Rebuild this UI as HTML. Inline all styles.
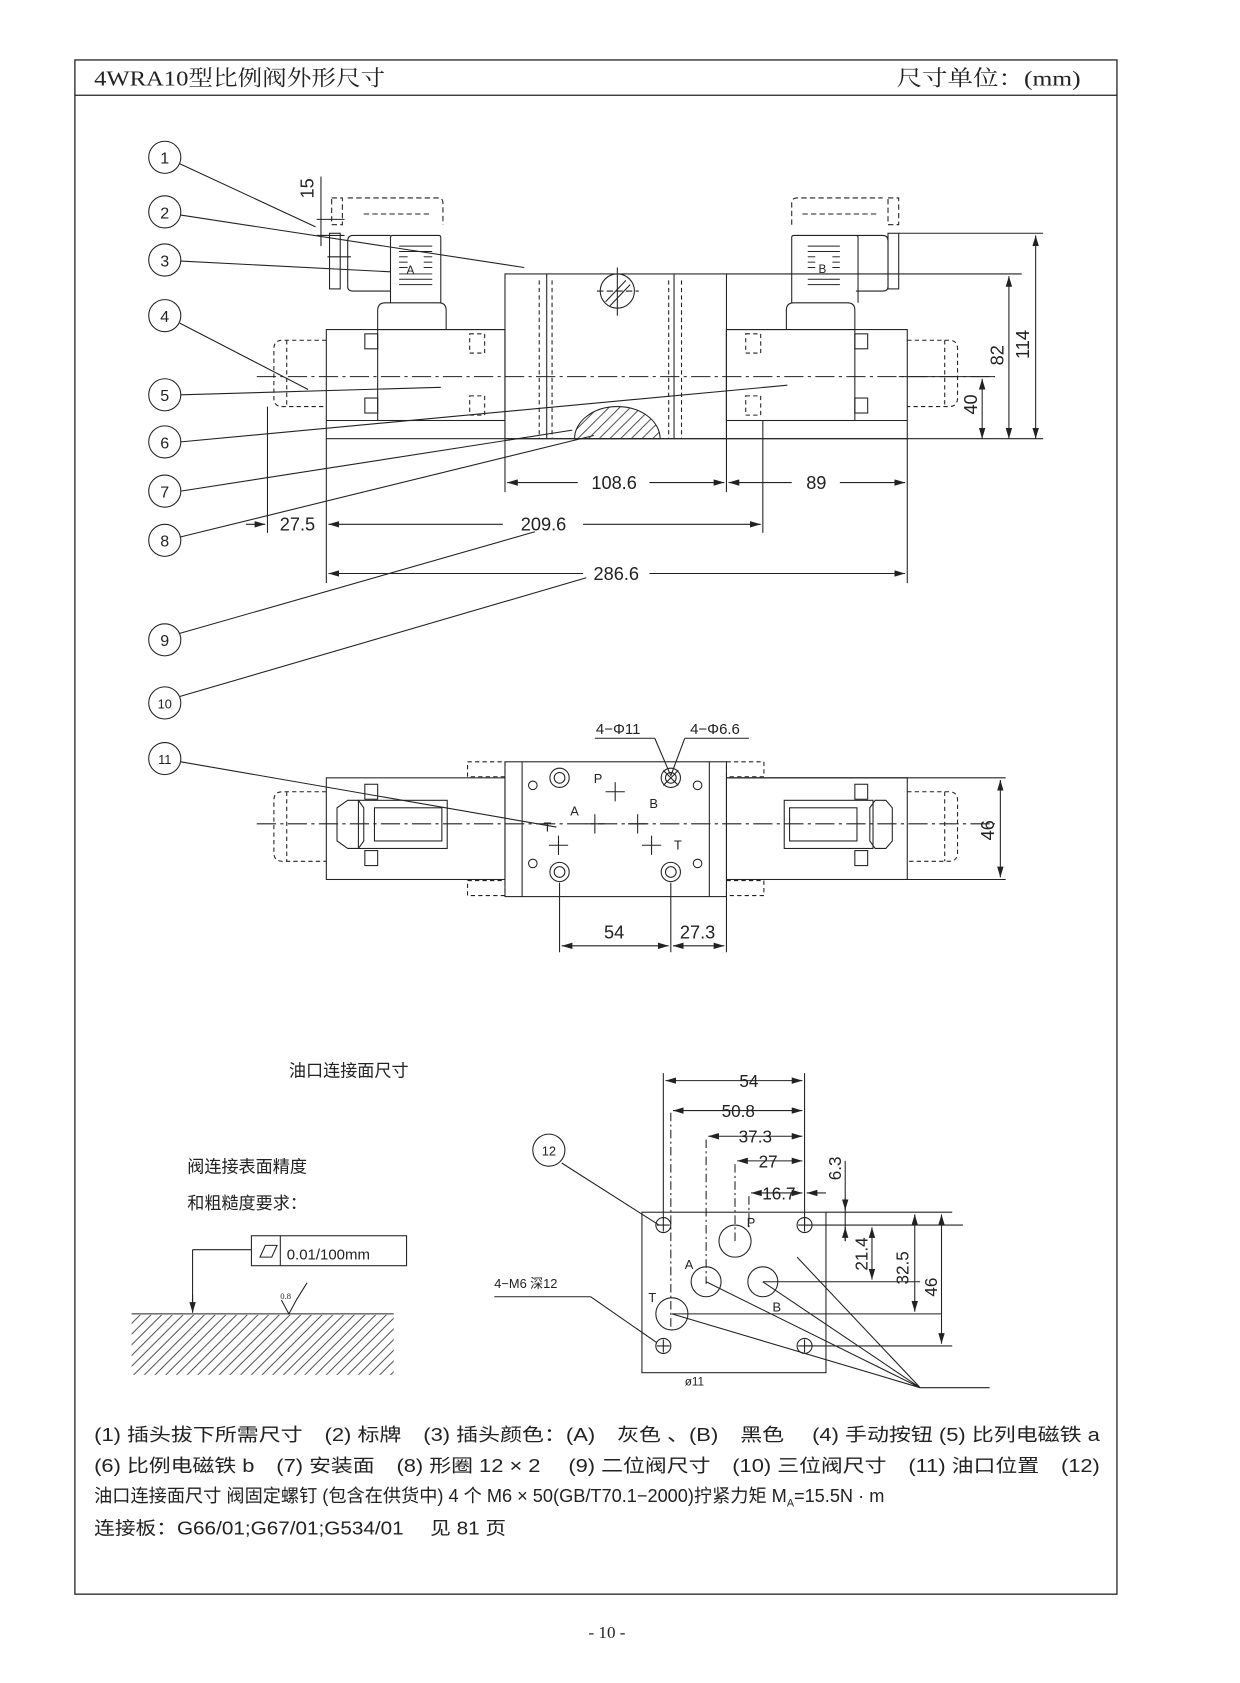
<!DOCTYPE html>
<html><head><meta charset="utf-8"><style>
html,body{margin:0;padding:0;background:#fff}
svg{display:block}
text{font-family:"Liberation Sans","Noto Sans CJK SC",sans-serif;fill:#222}
.s{font-family:"Liberation Serif","Noto Serif CJK SC",serif}
</style></head><body>
<svg width="1240" height="1683" viewBox="0 0 1159 1573" xmlns="http://www.w3.org/2000/svg">
<defs>
<marker id="a" viewBox="0 0 10 6" refX="10" refY="3" markerWidth="10" markerHeight="6" orient="auto-start-reverse" markerUnits="userSpaceOnUse"><path d="M0,0L10,3L0,6z" fill="#222"/></marker>
<pattern id="h" width="10" height="10" patternUnits="userSpaceOnUse"><path d="M0,10L10,0M-2,2L2,-2M8,12L12,8" stroke="#333" stroke-width="0.8"/></pattern>
</defs>
<g fill="none" stroke="#222" stroke-width="1">
<rect x="70" y="56" width="974" height="1434" stroke-width="1.2"/>
<line x1="70" y1="89" x2="1044" y2="89" stroke-width="1.2"/>

<g>
<circle cx="154" cy="147" r="15"/><circle cx="154" cy="198" r="15"/><circle cx="154" cy="243" r="15"/>
<circle cx="154" cy="295" r="15"/><circle cx="154" cy="369" r="15"/><circle cx="154" cy="413" r="15"/>
<circle cx="154" cy="459" r="15"/><circle cx="154" cy="505" r="15"/><circle cx="154" cy="598" r="15"/>
<circle cx="154" cy="657" r="15"/><circle cx="154" cy="709" r="15"/><circle cx="513" cy="1075" r="15"/>
</g>
<line x1="168" y1="153" x2="295" y2="212"/>
<line x1="169" y1="201" x2="490" y2="250"/>
<line x1="169" y1="244" x2="365" y2="254"/>
<line x1="168" y1="302" x2="288" y2="364"/>
<line x1="169" y1="369" x2="412" y2="362"/>
<line x1="169" y1="413" x2="736" y2="360"/>
<line x1="169" y1="459" x2="535" y2="402"/>
<line x1="168" y1="502" x2="555" y2="407"/>
<line x1="168" y1="592" x2="500" y2="497"/>
<line x1="168" y1="651" x2="548" y2="540"/>
<line x1="169" y1="712" x2="520" y2="773"/>
<line x1="525" y1="1087" x2="616" y2="1145"/>

<rect x="472" y="256" width="207" height="154"/>
<line x1="472" y1="410" x2="975" y2="410"/>
<line x1="305" y1="393" x2="472" y2="393"/>
<line x1="679" y1="393" x2="848" y2="393"/>
<rect x="305" y="308" width="167" height="102"/>
<rect x="353" y="308" width="119" height="85"/>
<rect x="341" y="312" width="12" height="14"/><rect x="341" y="372" width="12" height="14"/>
<rect x="679" y="308" width="169" height="102"/>
<rect x="679" y="308" width="120" height="85"/>
<rect x="799" y="312" width="12" height="14"/><rect x="799" y="372" width="12" height="14"/>
<g stroke-dasharray="4,3">
<path d="M305 318H264Q256 318 256 326V372Q256 380 264 380H305"/>
<line x1="268" y1="318" x2="268" y2="380"/>
<path d="M848 318H887Q895 318 895 326V372Q895 380 887 380H848"/>
<line x1="883" y1="318" x2="883" y2="380"/>
<rect x="439" y="312" width="14" height="18"/><rect x="439" y="370" width="14" height="18"/>
<rect x="697" y="312" width="14" height="18"/><rect x="697" y="370" width="14" height="18"/>
<line x1="504" y1="262" x2="504" y2="410"/><line x1="516" y1="262" x2="516" y2="410"/>
<line x1="625" y1="262" x2="625" y2="410"/><line x1="637" y1="262" x2="637" y2="410"/>
</g>
<line x1="511" y1="256" x2="511" y2="410"/><line x1="630" y1="256" x2="630" y2="410"/>
<line x1="240" y1="352" x2="930" y2="352" stroke-dasharray="18,4,3,4"/>
<circle cx="577" cy="272" r="16"/>
<line x1="566" y1="282" x2="585" y2="262"/><line x1="570" y1="286" x2="589" y2="266"/>
<line x1="558" y1="272" x2="597" y2="272" stroke-dasharray="6,3"/>
<line x1="577" y1="250" x2="577" y2="295"/>
<path d="M537 410A40 30 0 0 1 617 410Z" fill="url(#h)"/>
<path d="M353 308V290Q353 283 360 283H410Q417 283 417 290V308"/>
<path d="M365 283V222Q365 220 367 220H410Q412 220 412 222V283"/>
<path d="M365 220H330Q325 220 325 225V268Q325 272 330 272H365"/>
<rect x="308" y="218" width="10" height="52"/>
<line x1="306" y1="240" x2="328" y2="240"/>
<g stroke-dasharray="5,3"><path d="M325 185H410Q414 185 414 190V210"/><line x1="340" y1="200" x2="404" y2="200"/><rect x="310" y="185" width="10" height="25"/></g>
<g stroke-width="0.9">
<line x1="373" y1="230" x2="404" y2="230"/><line x1="373" y1="235" x2="404" y2="235"/>
<line x1="373" y1="240" x2="381" y2="240"/><line x1="396" y1="240" x2="404" y2="240"/>
<line x1="373" y1="245" x2="381" y2="245"/><line x1="396" y1="245" x2="404" y2="245"/>
<line x1="373" y1="250" x2="381" y2="250"/><line x1="396" y1="250" x2="404" y2="250"/>
<line x1="373" y1="256" x2="404" y2="256"/><line x1="373" y1="261" x2="404" y2="261"/><line x1="373" y1="266" x2="404" y2="266"/>
</g>
<path d="M735 308V290Q735 283 742 283H792Q799 283 799 290V308"/>
<path d="M740 283V222Q740 220 742 220H800Q802 220 802 222V283"/>
<path d="M800 220H825Q830 220 830 225V268Q830 272 825 272H800"/>
<rect x="830" y="218" width="10" height="52"/>
<g stroke-dasharray="5,3"><path d="M740 210V190Q740 185 745 185H825"/><line x1="750" y1="200" x2="820" y2="200"/><rect x="830" y="185" width="10" height="25"/></g>
<g stroke-width="0.9">
<line x1="755" y1="230" x2="785" y2="230"/><line x1="755" y1="235" x2="785" y2="235"/>
<line x1="755" y1="240" x2="762" y2="240"/><line x1="778" y1="240" x2="785" y2="240"/>
<line x1="755" y1="245" x2="762" y2="245"/><line x1="778" y1="245" x2="785" y2="245"/>
<line x1="755" y1="250" x2="762" y2="250"/><line x1="778" y1="250" x2="785" y2="250"/>
<line x1="755" y1="256" x2="785" y2="256"/><line x1="755" y1="261" x2="785" y2="261"/><line x1="755" y1="266" x2="785" y2="266"/>
</g>
<line x1="300" y1="165" x2="300" y2="230"/><line x1="296" y1="205" x2="322" y2="205"/><line x1="296" y1="220" x2="322" y2="220"/>
<line x1="840" y1="218" x2="975" y2="218"/><line x1="679" y1="256" x2="955" y2="256"/>
<line x1="840" y1="352" x2="930" y2="352"/>
<line x1="968" y1="220" x2="968" y2="410" marker-start="url(#a)" marker-end="url(#a)"/>
<line x1="943" y1="258" x2="943" y2="410" marker-start="url(#a)" marker-end="url(#a)"/>
<line x1="918" y1="354" x2="918" y2="410" marker-start="url(#a)" marker-end="url(#a)"/>
<line x1="472" y1="410" x2="472" y2="460"/><line x1="679" y1="410" x2="679" y2="460"/><line x1="848" y1="410" x2="848" y2="545"/>
<line x1="305" y1="410" x2="305" y2="545"/><line x1="250" y1="380" x2="250" y2="498"/><line x1="713" y1="393" x2="713" y2="498"/>
<line x1="474" y1="451" x2="540" y2="451" marker-start="url(#a)"/><line x1="607" y1="451" x2="677" y2="451" marker-end="url(#a)"/>
<line x1="681" y1="451" x2="740" y2="451" marker-start="url(#a)"/><line x1="785" y1="451" x2="846" y2="451" marker-end="url(#a)"/>
<line x1="230" y1="490" x2="248" y2="490" marker-end="url(#a)"/>
<line x1="307" y1="490" x2="470" y2="490" marker-start="url(#a)"/><line x1="545" y1="490" x2="711" y2="490" marker-end="url(#a)"/>
<line x1="307" y1="536" x2="545" y2="536" marker-start="url(#a)"/><line x1="607" y1="536" x2="846" y2="536" marker-end="url(#a)"/>

<rect x="472" y="712" width="207" height="126"/>
<line x1="488" y1="712" x2="488" y2="838"/><line x1="663" y1="712" x2="663" y2="838"/>
<rect x="305" y="727" width="167" height="95"/>
<rect x="679" y="727" width="169" height="95"/>
<rect x="335" y="748" width="83" height="45"/><rect x="350" y="755" width="63" height="31"/>
<rect x="733" y="748" width="83" height="45"/><rect x="738" y="755" width="63" height="31"/>
<path d="M315 755L325 748H335L340 755V786L335 793H325L315 786Z"/>
<path d="M834 755L828 748H818L813 755V786L818 793H828L834 786Z"/>
<rect x="341" y="733" width="12" height="14"/><rect x="341" y="795" width="12" height="14"/>
<rect x="799" y="733" width="12" height="14"/><rect x="799" y="795" width="12" height="14"/>
<g stroke-dasharray="4,3">
<path d="M305 740H264Q256 740 256 748V797Q256 805 264 805H305"/><line x1="268" y1="740" x2="268" y2="805"/>
<path d="M848 740H887Q895 740 895 748V797Q895 805 887 805H848"/><line x1="883" y1="740" x2="883" y2="805"/>
<rect x="437" y="712" width="35" height="14"/><rect x="437" y="823" width="35" height="14"/>
<rect x="679" y="712" width="35" height="14"/><rect x="679" y="823" width="35" height="14"/>
</g>
<line x1="240" y1="770" x2="930" y2="770" stroke-dasharray="18,4,3,4"/>
<circle cx="523" cy="727" r="9"/><circle cx="523" cy="727" r="5"/>
<circle cx="627" cy="727" r="9"/><circle cx="627" cy="727" r="5"/>
<circle cx="523" cy="815" r="9"/><circle cx="523" cy="815" r="5"/>
<circle cx="627" cy="815" r="9"/><circle cx="627" cy="815" r="5"/>
<circle cx="498" cy="734" r="4"/><circle cx="652" cy="734" r="4"/><circle cx="498" cy="807" r="4"/><circle cx="652" cy="807" r="4"/>
<path d="M566 740h18M575 731v18M547 770h18M556 761v18M587 770h18M596 761v18M513 790h18M522 781v18M600 790h18M609 781v18"/>
<line x1="620" y1="720" x2="634" y2="734"/><line x1="634" y1="720" x2="620" y2="734"/>
<line x1="556" y1="690" x2="612" y2="690"/><line x1="612" y1="690" x2="627" y2="725"/>
<line x1="640" y1="690" x2="700" y2="690"/><line x1="640" y1="690" x2="627" y2="725"/>
<line x1="679" y1="727" x2="940" y2="727"/><line x1="679" y1="822" x2="940" y2="822"/>
<line x1="935" y1="729" x2="935" y2="820" marker-start="url(#a)" marker-end="url(#a)"/>
<line x1="523" y1="825" x2="523" y2="890"/><line x1="627" y1="825" x2="627" y2="890"/><line x1="679" y1="838" x2="679" y2="890"/>
<line x1="525" y1="884" x2="625" y2="884" marker-start="url(#a)" marker-end="url(#a)"/>
<line x1="629" y1="884" x2="677" y2="884" marker-start="url(#a)" marker-end="url(#a)"/>

<rect x="600" y="1133" width="172" height="150"/>
<circle cx="620" cy="1145" r="7"/><circle cx="752" cy="1145" r="7"/><circle cx="620" cy="1258" r="7"/><circle cx="752" cy="1258" r="7"/>
<path d="M614 1145h12M620 1139v12M746 1145h12M752 1139v12M614 1258h12M620 1252v12M746 1258h12M752 1252v12"/>
<circle cx="687" cy="1160" r="15"/><circle cx="660" cy="1198" r="14"/><circle cx="713" cy="1198" r="14"/><circle cx="628" cy="1228" r="15"/>
<g stroke-dasharray="8,3,2,3"><line x1="627" y1="1040" x2="627" y2="1240"/><line x1="660" y1="1065" x2="660" y2="1200"/><line x1="687" y1="1088" x2="687" y2="1160"/><line x1="700" y1="1118" x2="700" y2="1150"/></g>
<line x1="620" y1="1003" x2="620" y2="1140"/><line x1="752" y1="1003" x2="752" y2="1145"/>
<line x1="622" y1="1010" x2="750" y2="1010" marker-start="url(#a)" marker-end="url(#a)"/>
<line x1="629" y1="1038" x2="750" y2="1038" marker-start="url(#a)" marker-end="url(#a)"/>
<line x1="662" y1="1062" x2="750" y2="1062" marker-start="url(#a)" marker-end="url(#a)"/>
<line x1="689" y1="1085" x2="750" y2="1085" marker-start="url(#a)" marker-end="url(#a)"/>
<line x1="702" y1="1115" x2="750" y2="1115" marker-start="url(#a)" marker-end="url(#a)"/>
<line x1="754" y1="1115" x2="772" y2="1115" marker-start="url(#a)"/>
<line x1="752" y1="1145" x2="900" y2="1145"/><line x1="772" y1="1133" x2="890" y2="1133"/>
<line x1="713" y1="1198" x2="860" y2="1198"/><line x1="628" y1="1228" x2="880" y2="1228"/><line x1="752" y1="1258" x2="890" y2="1258"/>
<line x1="790" y1="1085" x2="790" y2="1160"/><line x1="790" y1="1120" x2="790" y2="1131" marker-end="url(#a)"/><line x1="790" y1="1160" x2="790" y2="1147" marker-end="url(#a)"/>
<line x1="815" y1="1147" x2="815" y2="1196" marker-start="url(#a)" marker-end="url(#a)"/>
<line x1="855" y1="1135" x2="855" y2="1226" marker-start="url(#a)" marker-end="url(#a)"/>
<line x1="880" y1="1135" x2="880" y2="1256" marker-start="url(#a)" marker-end="url(#a)"/>
<path d="M860 1297L660 1198M860 1297L713 1198M860 1297L745 1175M860 1297L628 1228M860 1297H925"/>
<line x1="462" y1="1212" x2="552" y2="1212"/><line x1="552" y1="1212" x2="614" y2="1255"/>
<rect x="235" y="1155" width="145" height="28"/><line x1="262" y1="1155" x2="262" y2="1183"/>
<path d="M243 1175l5-11h11l-5 11z"/>
<path d="M180 1168H235M180 1168V1226" /><line x1="180" y1="1210" x2="180" y2="1227" marker-end="url(#a)"/>
<path d="M263 1215l7 13 7-13M277 1215l10-16"/>
<rect x="123" y="1229" width="245" height="56" stroke="none" fill="url(#h)"/>
<line x1="123" y1="1228" x2="368" y2="1228"/>
</g>

<text x="88" y="80" class="s" font-size="20" textLength="272" lengthAdjust="spacingAndGlyphs">4WRA10型比例阀外形尺寸</text>
<text x="838" y="80" class="s" font-size="20" textLength="172" lengthAdjust="spacingAndGlyphs">尺寸单位：(mm)</text>
<g font-size="15" text-anchor="middle">
<text x="154" y="153">1</text><text x="154" y="204">2</text><text x="154" y="249">3</text><text x="154" y="301">4</text>
<text x="154" y="375">5</text><text x="154" y="419">6</text><text x="154" y="465">7</text><text x="154" y="511">8</text>
<text x="154" y="604">9</text><text x="154" y="662" font-size="12">10</text><text x="154" y="714" font-size="12">11</text><text x="513" y="1080" font-size="12">12</text>
</g>
<text x="380" y="256" font-size="11">A</text><text x="765" y="255" font-size="11">B</text>
<g font-size="17" fill="#333">
<text x="574" y="457" text-anchor="middle">108.6</text>
<text x="763" y="457" text-anchor="middle">89</text>
<text x="278" y="496" text-anchor="middle">27.5</text>
<text x="508" y="496" text-anchor="middle">209.6</text>
<text x="576" y="542" text-anchor="middle">286.6</text>
<text x="574" y="877" text-anchor="middle">54</text>
<text x="652" y="877" text-anchor="middle">27.3</text>
<text transform="translate(293,176) rotate(-90)" text-anchor="middle">15</text>
<text transform="translate(962,322) rotate(-90)" text-anchor="middle">114</text>
<text transform="translate(938,332) rotate(-90)" text-anchor="middle">82</text>
<text transform="translate(913,378) rotate(-90)" text-anchor="middle">40</text>
<text transform="translate(929,776) rotate(-90)" text-anchor="middle">46</text>
</g>
<g font-size="14">
<text x="557" y="686">4−Φ11</text><text x="645" y="686">4−Φ6.6</text>
</g>
<g font-size="12">
<text x="555" y="732">P</text><text x="533" y="762">A</text><text x="508" y="777">T</text><text x="607" y="755">B</text><text x="630" y="794">T</text>
<text x="698" y="1147">P</text><text x="640" y="1186">A</text><text x="722" y="1226">B</text><text x="606" y="1217">T</text>
<text x="640" y="1295" font-size="11">ø11</text>
<text x="462" y="1204" font-size="12">4−M6 深12</text>
<text x="268" y="1177" font-size="14">0.01/100mm</text>
<text x="262" y="1214" font-size="8" class="s">0.8</text>
</g>
<g font-size="16" fill="#333">
<text x="700" y="1016" text-anchor="middle">54</text>
<text x="690" y="1044" text-anchor="middle">50.8</text>
<text x="706" y="1068" text-anchor="middle">37.3</text>
<text x="718" y="1091" text-anchor="middle">27</text>
<text x="728" y="1121" text-anchor="middle">16.7</text>
<text transform="translate(786,1092) rotate(-90)" text-anchor="middle">6.3</text>
<text transform="translate(811,1172) rotate(-90)" text-anchor="middle">21.4</text>
<text transform="translate(849,1185) rotate(-90)" text-anchor="middle">32.5</text>
<text transform="translate(876,1203) rotate(-90)" text-anchor="middle">46</text>
</g>
<g font-size="16">
<text x="270" y="1006">油口连接面尺寸</text>
<text x="175" y="1096">阀连接表面精度</text>
<text x="175" y="1130">和粗糙度要求：</text>
</g>
<g font-size="17">
<text x="88" y="1347" textLength="940" lengthAdjust="spacingAndGlyphs">(1) 插头拔下所需尺寸　(2) 标牌　(3) 插头颜色：(A)　灰色 、(B)　黑色　 (4) 手动按钮 (5) 比列电磁铁 a</text>
<text x="88" y="1376" textLength="940" lengthAdjust="spacingAndGlyphs">(6) 比例电磁铁 b　(7) 安装面　(8) 形圈 12 × 2　 (9) 二位阀尺寸　(10) 三位阀尺寸　(11) 油口位置　(12)</text>
<text x="88" y="1404">油口连接面尺寸 阀固定螺钉 (包含在供货中) 4 个 M6 × 50(GB/T70.1−2000)拧紧力矩 M<tspan font-size="10" dy="4">A</tspan><tspan dy="-4">=15.5N · m</tspan></text>
<text x="88" y="1434" textLength="385" lengthAdjust="spacingAndGlyphs">连接板：G66/01;G67/01;G534/01　 见 81 页</text>
</g>
<text x="550" y="1531" class="s" font-size="16">- 10 -</text>
</svg>
</body></html>
